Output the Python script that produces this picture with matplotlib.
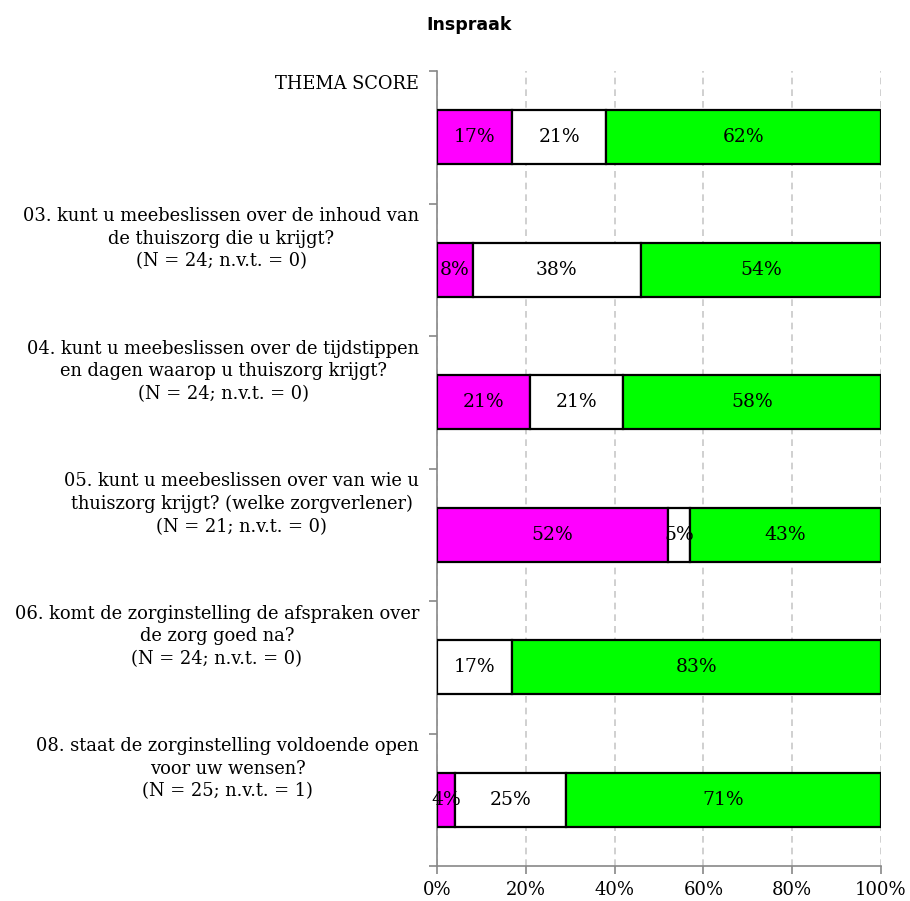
import matplotlib
matplotlib.use("Agg")
import matplotlib.pyplot as plt
import matplotlib.transforms as mtransforms

questions = [
    "THEMA SCORE",
    "03. kunt u meebeslissen over de inhoud van\nde thuiszorg die u krijgt?\n(N = 24; n.v.t. = 0)",
    "04. kunt u meebeslissen over de tijdstippen\nen dagen waarop u thuiszorg krijgt?\n(N = 24; n.v.t. = 0)",
    "05. kunt u meebeslissen over van wie u\nthuiszorg krijgt? (welke zorgverlener)\n(N = 21; n.v.t. = 0)",
    "06. komt de zorginstelling de afspraken over\nde zorg goed na?\n(N = 24; n.v.t. = 0)",
    "08. staat de zorginstelling voldoende open\nvoor uw wensen?\n(N = 25; n.v.t. = 1)",
]
negative = [17, 8, 21, 52, 0, 4]
neutral = [21, 38, 21, 5, 17, 25]
positive = [62, 54, 58, 43, 83, 71]

series = [negative, neutral, positive]
colors = ["#FF00FF", "#FFFFFF", "#00FF00"]

serif = "DejaVu Serif"
fig = plt.figure(figsize=(9.10, 9.01), dpi=100)
ax = fig.add_axes([437 / 910, 1 - 866 / 901, 444 / 910, 795 / 901])

ypos = list(range(len(questions)))
left = [0] * len(questions)
for vals, col in zip(series, colors):
    ax.barh(ypos, vals, left=left, height=0.41, color=col,
            edgecolor="black", linewidth=1.6, zorder=3)
    for y, v, l in zip(ypos, vals, left):
        if v > 0:
            ax.text(l + v / 2, y, f"{v}%", ha="center", va="center",
                    fontsize=13.5, family=serif, zorder=4)
    left = [a + b for a, b in zip(left, vals)]

ax.set_xlim(0, 100)
ax.set_ylim(len(questions) - 0.5, -0.5)
ax.set_xticks([0, 20, 40, 60, 80, 100])
ax.set_xticklabels([f"{t}%" for t in [0, 20, 40, 60, 80, 100]],
                   family=serif, fontsize=13)
ax.set_yticks([i - 0.5 for i in range(len(questions) + 1)])
ax.set_yticklabels([])
ax.tick_params(axis="both", color="#888888", length=6, width=1.2)
ax.tick_params(axis="x", pad=5)

for s in ["top", "right"]:
    ax.spines[s].set_visible(False)
for s in ["left", "bottom"]:
    ax.spines[s].set_color("#888888")
    ax.spines[s].set_linewidth(1.2)

ax.xaxis.grid(True, linestyle=(0, (4, 3)), color="#c8c8c8", linewidth=1.2, zorder=0)
ax.set_axisbelow(True)

trans = mtransforms.blended_transform_factory(ax.transAxes, ax.transData)
for i, q in enumerate(questions):
    ax.text(-18 / 444, i - 0.5 + 0.03, q, transform=trans, ha="right", va="top",
            multialignment="center", fontsize=12.9, family=serif, linespacing=1.32)

fig.text(469 / 910, 1 - 25 / 901, "Inspraak", ha="center", va="center",
         fontsize=12.5, fontweight="bold", family="DejaVu Sans")

fig.savefig("out.png", dpi=100)
